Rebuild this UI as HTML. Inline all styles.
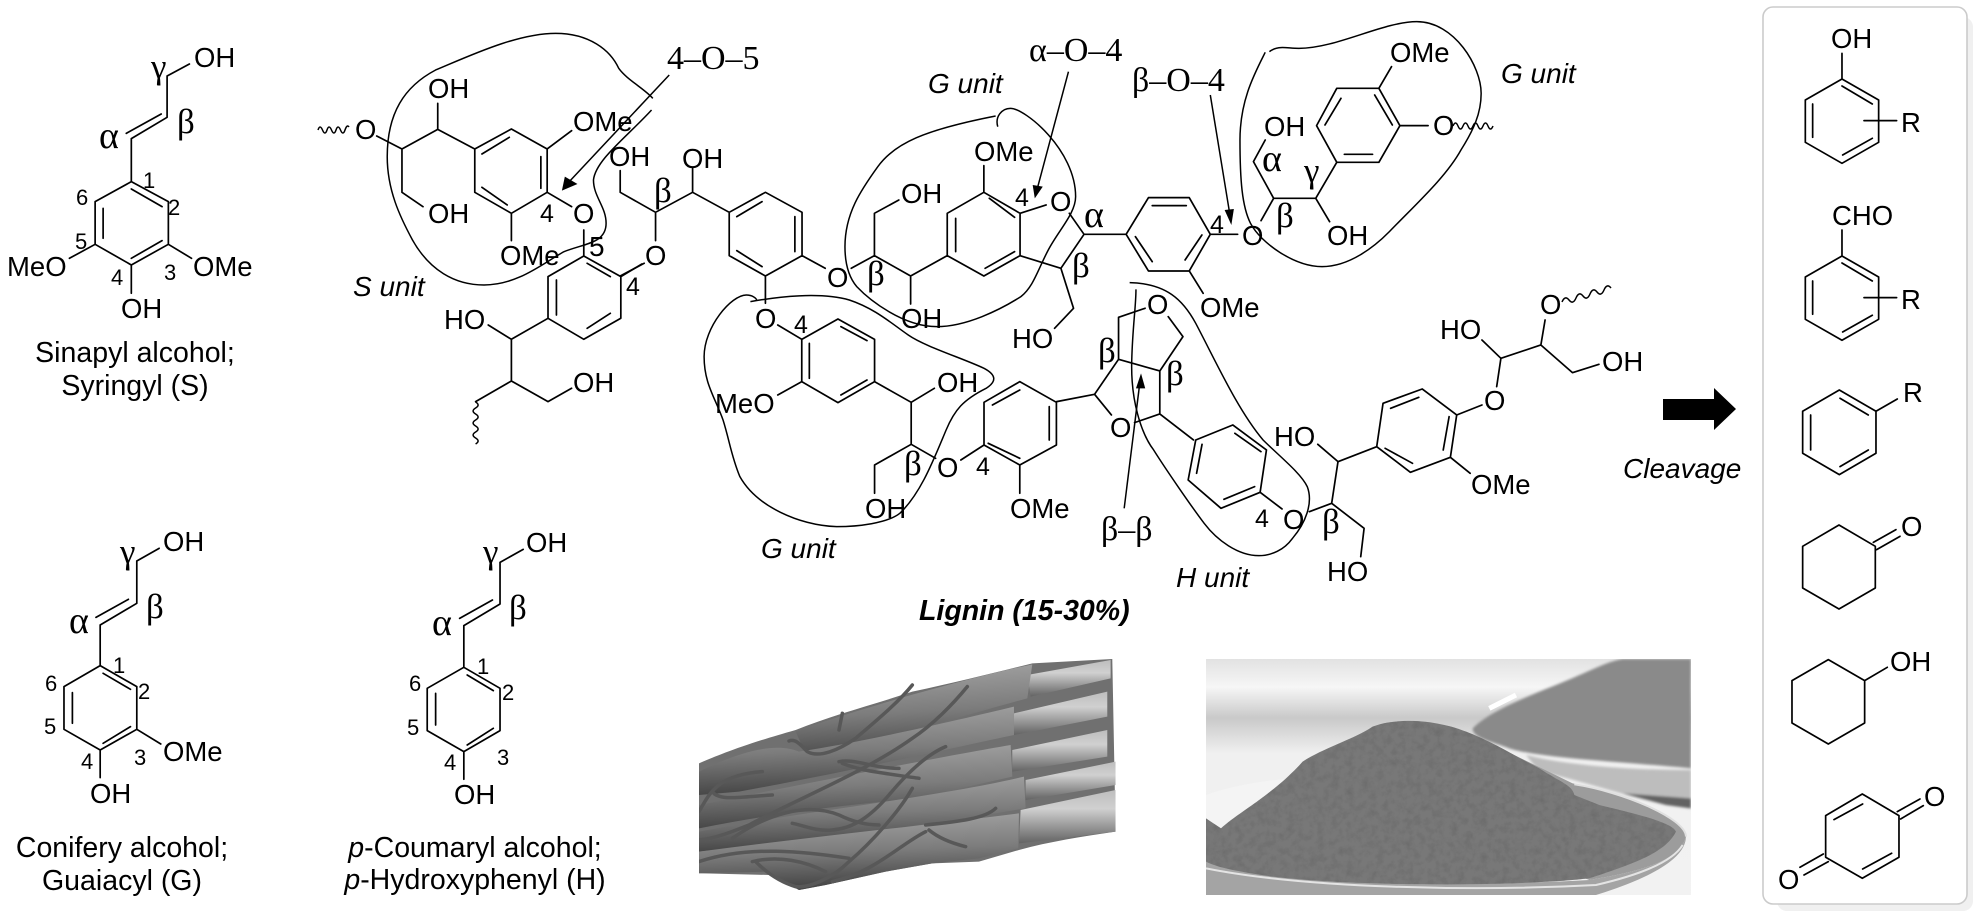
<!DOCTYPE html>
<html lang="en"><head><meta charset="utf-8"><title>Lignin</title>
<style>
html,body{margin:0;padding:0;background:#fff}
svg{display:block}
svg *{vector-effect:non-scaling-stroke}
.b{fill:none;stroke:#000;stroke-width:1.7;stroke-linejoin:round;stroke-linecap:round}
.t{fill:none;stroke:#000;stroke-width:1.5}
text{font-family:"Liberation Sans",sans-serif;fill:#000;font-size:27.5px}
.g{font-family:"Liberation Serif",serif;font-size:35px}
.a{font-size:38px}
.n{font-size:22px}
.m{font-size:25px}
.c{font-size:28.5px;text-anchor:middle}
.i{font-style:italic;font-size:28px}
.l{font-family:"Liberation Serif",serif;font-size:34px}
</style></head><body>
<svg width="1983" height="919" viewBox="0 0 1983 919" xmlns="http://www.w3.org/2000/svg">
<defs>
<linearGradient id="st" x1="0" y1="0" x2="0.15" y2="1"><stop offset="0" stop-color="#a8a8a8"/><stop offset=".55" stop-color="#7c7c7c"/><stop offset="1" stop-color="#454545"/></linearGradient>
<linearGradient id="rt" x1="0" y1="0" x2="0" y2="1"><stop offset="0" stop-color="#bdbdbd"/><stop offset=".35" stop-color="#d0d0d0"/><stop offset="1" stop-color="#636363"/></linearGradient>
<linearGradient id="bg" x1="0" y1="0" x2="0" y2="1"><stop offset="0" stop-color="#e2e2e2"/><stop offset=".12" stop-color="#f6f6f6"/><stop offset=".25" stop-color="#c9c9c9"/><stop offset=".4" stop-color="#f0f0f0"/><stop offset="1" stop-color="#f2f2f2"/></linearGradient>
<filter id="pw" x="0" y="0" width="100%" height="100%"><feTurbulence type="fractalNoise" baseFrequency=".045" numOctaves="3" seed="4"/><feColorMatrix values="0 0 0 0 .15 0 0 0 0 .15 0 0 0 0 .15 1.8 0 0 0 -.7"/><feComposite in2="SourceAlpha" operator="in"/><feMerge><feMergeNode in="SourceGraphic"/><feMergeNode/></feMerge></filter>
<filter id="bl" x="-5%" y="-5%" width="110%" height="110%"><feGaussianBlur stdDeviation="4"/></filter>
<clipPath id="c1"><rect x="0" y="0" width="1250" height="720"/></clipPath>
<clipPath id="c2"><rect x="0" y="12" width="1455" height="708"/></clipPath>
</defs>

<!-- products panel -->
<rect x="1777" y="17" width="196" height="894" rx="10" fill="#f0f0f0"/>
<rect x="1763" y="7" width="204" height="897" rx="10" fill="#fff" stroke="#cbcbcb" stroke-width="1.6"/>

<!-- photo 1: fibre bundle -->
<g transform="matrix(.3333 0 0 .3333 699 655)" clip-path="url(#c1)">
  <path d="M0,325C60,300 130,270 290,225C400,180 520,150 640,110C780,80 900,50 1000,25L1240,12L1250,530C1150,545 1050,560 960,585L840,620L700,625L560,650L380,690L300,705L210,660L0,655Z" fill="#707070"/>
  <path d="M985,60L1235,15V70L995,125Z" fill="url(#rt)"/>
  <path d="M945,175L1225,110V185L945,240Z" fill="url(#rt)"/>
  <path d="M940,285L1225,225V305L940,350Z" fill="url(#rt)"/>
  <path d="M980,375L1250,320V390L980,435Z" fill="url(#rt)"/>
  <path d="M965,465L1250,405V530L960,565Z" fill="url(#rt)"/>
  <path d="M290,230C450,170 800,70 1000,28L985,130C800,180 500,270 330,320Z" fill="url(#st)"/>
  <path d="M0,350C120,290 230,260 300,290C500,260 800,190 945,155V240C800,270 500,340 120,410L0,420Z" fill="url(#st)"/>
  <path d="M0,450C300,390 700,310 935,270L940,365L650,430C450,450 250,470 0,520Z" fill="url(#st)"/>
  <path d="M0,530C300,470 700,430 975,365L980,460C800,490 500,540 0,590Z" fill="url(#st)"/>
  <path d="M0,590C300,550 600,520 960,475L958,580L840,610L700,625L560,650L380,690L300,705L210,650L0,655Z" fill="url(#st)"/>
  <g fill="none" stroke="#585858" stroke-width="3.500" stroke-linecap="round">
    <path d="M640,90C600,140 540,190 470,250C420,285 360,310 325,290C305,270 290,250 270,258"/>
    <path d="M805,95C760,150 700,210 640,250C500,350 300,430 150,510C100,530 50,550 0,555"/>
    <path d="M740,275C680,300 620,360 570,420C510,490 460,520 400,525C350,530 310,510 280,505"/>
    <path d="M640,400C600,470 520,560 450,620C400,670 330,700 290,695C240,680 200,650 170,620"/>
    <path d="M420,320C470,310 520,340 600,340M430,325C480,345 520,350 660,370"/>
    <path d="M0,470C30,420 50,360 190,350M40,410C60,440 130,425 220,420"/>
    <path d="M100,550C200,480 320,440 420,480C460,500 500,510 540,510"/>
    <path d="M690,525C720,550 760,565 800,575M890,460C860,490 780,500 680,510"/>
    <path d="M680,530C600,570 530,650 400,680"/>
    <path d="M430,175L420,225"/>
    <path d="M0,620C150,570 320,590 450,610M160,620C240,600 320,620 380,650"/>
  </g>
</g>

<!-- photo 2: powder -->
<g transform="matrix(.3333 0 0 .3333 1206 655)" clip-path="url(#c2)">
  <rect x="0" y="12" width="1455" height="708" fill="url(#bg)"/>
  <path d="M850,160L930,120" stroke="#fff" stroke-width="5" fill="none"/>
  <g filter="url(#bl)">
    <path d="M800,220C850,170 950,130 1050,90C1150,50 1200,20 1250,12H1455V340C1250,320 1000,310 910,280C860,260 800,250 800,220Z" fill="#8a8a8a"/>
    <path d="M960,300C1100,335 1300,345 1455,345V460L1380,450C1250,420 1100,370 1000,350Z" fill="#bdbdbd"/>
    <path d="M1250,415L1455,430V460L1380,450Z" fill="#626262"/>
  </g>
  <path d="M0,420C100,385 200,375 260,370L40,520L0,490Z" fill="#f4f4f4"/>
  <path d="M780,230L1100,385C1250,410 1440,490 1440,545C1420,620 1300,650 1150,675L700,500Z" fill="#9c9c9c"/>
  <path d="M1105,388C1250,410 1440,490 1440,545" fill="none" stroke="#e0e0e0" stroke-width="2"/>
  <path d="M0,620C200,680 700,700 1150,675C1300,650 1420,620 1440,545C1440,620 1300,680 1170,720H0Z" fill="#a4a4a4"/>
  <path d="M0,640C300,700 800,710 1170,690C1300,660 1400,620 1430,570" fill="none" stroke="#e4e4e4" stroke-width="2"/>
  <path d="M0,490L45,520C100,470 200,420 290,320C350,280 450,250 500,215C560,190 680,190 780,230C860,260 920,300 1000,340C1060,380 1100,390 1105,420L1180,450C1260,470 1400,500 1410,530C1380,590 1300,620 1150,670C1000,690 500,700 200,665C100,650 40,640 0,620Z" fill="#787878" filter="url(#pw)"/>
</g>

<!-- big arrow -->
<polygon points="1663,399 1714,399 1714,388 1736,409 1714,430 1714,420 1663,420" fill="#000"/>

<!-- ZOOM 1 -->
<g transform="matrix(.4209 0 0 .3333 0 0)">
<path class="b" d="M397,228L450,192M397,228V352L312,416M383,342L300,400M312,416V545M312,545L400,605V733L312,795L226,733V605Z M312,567L385,620M385,722L312,775M245,625V715M400,733L455,775M226,733L165,775M312,795V880"/>
<path class="b" d="M895,408L955,447L1040,388V310M955,447V577L1005,620M1040,388L1128,447L1215,387L1300,447V577L1215,640L1128,577V447M1145,462L1210,412M1285,470V565M1145,562L1205,615M1300,447L1358,392M1215,640V722M1300,577L1358,620M1387,690V768L1475,830V955L1387,1018L1302,955V830L1387,768M1395,790L1450,830M1450,940L1395,985M1322,840V945M1475,830L1525,792M1302,955L1215,1018L1160,975M1215,1018V1143L1302,1205L1358,1165M1215,1143L1130,1205"/>
<path class="t" d="M1551,295C1530,265 1490,240 1470,205C1450,150 1400,100 1320,100C1230,100 1120,165 1035,210C960,260 920,340 920,470C920,570 950,650 980,720C1020,810 1080,855 1150,855C1230,855 1290,790 1340,755C1390,730 1440,730 1440,670C1440,620 1410,590 1410,540C1415,480 1490,410 1548,330"/>
<path class="t" d="M1590,225L1345,555"/>
<polygon points="1335,572 1342,530 1372,552" fill="#000"/>
</g>
<path class="t" d="M318,130q2,-6 4.500,0t4.500,0t4.500,0t4.500,0t4.500,0t4.500,0t4,-3"/>
<path class="t" d="M475.600,402q5,3 0,6t0,6t0,6t0,6t0,6t0,6t0,6"/>
<path class="t" d="M1453,126q2.500,-6 5,0t5,0t5,0t5,0t5,0t5,0t5,0t5,0"/>
<path class="t" d="M1562,302q3,-7 7,-2t7,-2t7,-2t7,-2t7,-2t7,-2t7,-2"/>

<!-- ZOOM 2 -->
<g transform="matrix(.4209 0 0 .3333 600 0)">
<path class="b" d="M48,512V577L132,637L220,577V505M132,637V722M105,790L48,828M220,577L307,637L393,577L480,637V767L393,828L307,767V637M325,650L385,605M463,650V755M325,752L385,800M480,767L535,805M597,805L652,767M393,828V910M652,767V640L710,600M652,767L738,828V912M738,828L825,767V640L912,577L998,640V767L912,828L825,767M845,655V755M925,595L985,652M915,805L985,755M912,577V497M998,640L1060,615M998,767L1095,805M1115,640L1150,703L1095,805M1150,703H1250M1250,703L1303,593H1400L1450,703L1400,813H1303Z M1095,805L1125,925L1080,985M1312,617H1393M1272,710L1312,785M1430,705L1390,780M1400,813L1433,880M1450,703H1515"/>
<path class="b" d="M1085,1205L1175,1183L1215,1245M1270,1268L1330,1242M1175,1183L1232,1078L1330,1113V1242M1232,1078V952L1295,925M1350,950L1385,1010L1330,1113M1330,1242L1410,1320"/>
<path class="t" d="M945,380C938,350 955,325 975,325C1010,325 1130,450 1130,590C1130,640 1090,690 1065,750C1040,810 1030,860 1000,890C950,930 870,980 800,980C720,980 640,900 610,860C590,830 582,790 582,740C582,640 620,570 660,500C700,430 770,390 940,348"/>
<path class="t" d="M1113,215L1037,575M1450,285L1496,640"/>
<polygon points="1033,595 1028,555 1052,560" fill="#000"/>
<polygon points="1500,675 1484,630 1506,627" fill="#000"/>
</g>

<!-- ZOOM 3 -->
<g transform="matrix(.4209 0 0 .3333 1160 0)">
<path class="b" d="M240,662L270,595L222,485L250,420M270,595H370L403,665M370,595L420,487H520L570,377L520,265H420L372,377L420,487M438,463H505M392,375L430,295M510,285L552,375M570,377H637M520,265L550,200"/>
<path class="t" d="M250,157C225,220 190,300 190,420C190,540 195,620 215,670C240,730 320,800 385,800C450,800 510,740 545,695C610,610 680,530 715,450C745,390 763,340 763,280C763,200 700,65 610,65C530,65 420,145 330,145C300,145 280,135 260,155"/>
</g>

<!-- ZOOM 4 -->
<g transform="matrix(.4209 0 0 .3333 420 280)">
<path class="b" d="M850,135L907,178M907,178L993,117L1080,178V305L993,368L907,305Z M925,190V295M1000,140L1062,182M1000,345L1062,300M907,305L850,345M1080,305L1167,367L1222,325M1167,367V493L1080,555V640M1167,493L1225,535M1285,540L1340,495L1425,555L1512,495V367L1425,305L1340,367V495M1350,490L1425,535M1495,380V480M1360,375L1425,330M1425,555V640"/>
<path class="t" d="M785,65C850,50 950,35 1020,60C1080,85 1120,130 1160,165C1200,200 1290,235 1340,265C1370,285 1370,305 1345,325C1290,360 1270,390 1250,450C1220,540 1190,640 1140,700C1110,730 1040,740 990,740C900,735 800,680 760,590C740,530 735,480 720,420C700,350 675,310 675,230C675,140 740,45 775,45C790,45 800,55 800,62"/>
</g>

<!-- ZOOM 5 -->
<g transform="matrix(.4209 0 0 .3333 1040 260)">
<path class="b" d="M370,540L458,495L538,570L523,697L430,745L352,660Z M385,553L372,640M463,520L525,575M437,718L510,680M523,697L575,747M640,755L693,730L770,805L762,890M693,730L708,605L660,553M708,605L800,560L815,430L908,387L990,465L975,592L880,637L800,560M833,445L900,412M972,470L958,570M820,565L885,610M990,465L1050,435M1085,380L1095,295L1050,240M1095,295L1190,255L1200,180M1190,255L1265,338L1328,313M975,592L1022,640"/>
<path class="t" d="M213,68C300,70 340,120 370,190C420,310 470,450 530,540C570,590 620,640 635,680C650,730 630,790 600,835C580,870 550,887 520,887C470,887 420,840 390,790C360,740 300,630 270,570C240,520 215,420 218,300C220,200 228,140 228,88"/>
<path class="t" d="M200,745L236,380"/>
<polygon points="240,340 228,385 250,385" fill="#000"/>
</g>

<!-- ZOOM 6 -->
<g transform="matrix(.4209 0 0 .3333 0 500)">
<path class="b" d="M325,183L378,145M325,183V310L238,375M305,298L228,352M238,375V497M238,497L325,560V688L238,750L152,688V560Z M245,520L310,568M310,680L245,730M172,578V670M325,688L382,732M238,750V833"/>
<path class="b" d="M1188,187L1243,148M1188,187V312L1102,377M1170,300L1092,355M1102,377V502M1102,502L1188,565V692L1102,755L1015,692V565Z M1110,525L1172,572M1172,685L1110,735M1035,580V675M1102,755V838"/>
</g>

<!-- panel molecules -->
<g transform="matrix(.3333 0 0 .3333 1660 0)">
<path class="b" d="M546,160V237M546,237L656,300V427L546,490L436,427V300Z M546,258L637,312M458,312V412M548,465L637,415M612,362H710"/>
<path class="b" d="M546,690V768M546,768L656,831V958L546,1021L436,958V831Z M546,789L637,843M458,843V943M548,996L637,946M612,893H710"/>
<path class="b" d="M538,1170L648,1234V1360L538,1424L428,1360V1234Z M540,1195L625,1245M452,1245V1350M540,1400L625,1350M648,1234L712,1197"/>
</g>
<g transform="matrix(.3333 0 0 .3333 1660 459)">
<path class="b" d="M537,198L646,262V387L537,450L428,387V262Z M640,250L708,212M650,272L720,232"/>
<path class="b" d="M505,602L614,665V792L505,855L396,792V665Z M614,665L682,625"/>
<path class="b" d="M607,1005L717,1070V1195L607,1258L497,1195V1070Z M522,1082L608,1035M608,1230L695,1183M712,1058L780,1020M722,1080L790,1040M490,1185L420,1225M505,1208L432,1248"/>
</g>

<!-- Sinapyl text -->
<text x="194" y="67">OH</text>
<text class="g" x="151" y="78">γ</text>
<text class="g a" x="99" y="148">α</text>
<text class="g" x="177" y="133">β</text>
<text class="n" x="143" y="188">1</text><text class="n" x="168" y="215">2</text><text class="n" x="76" y="205">6</text><text class="n" x="75" y="249">5</text><text class="n" x="111" y="285">4</text><text class="n" x="164" y="280">3</text>
<text x="7" y="276">MeO</text><text x="193" y="276">OMe</text><text x="121" y="318">OH</text>
<text class="c" x="135" y="362">Sinapyl alcohol;</text>
<text class="c" x="135" y="395">Syringyl (S)</text>

<!-- Coniferyl text -->
<text x="163" y="551">OH</text>
<text class="g" x="120" y="563">γ</text><text class="g" x="146" y="618">β</text><text class="g a" x="69" y="633">α</text>
<text class="n" x="113" y="673">1</text><text class="n" x="138" y="699">2</text><text class="n" x="45" y="691">6</text><text class="n" x="44" y="734">5</text><text class="n" x="81" y="769">4</text><text class="n" x="134" y="765">3</text>
<text x="163" y="761">OMe</text><text x="90" y="803">OH</text>
<text class="c" x="122" y="857">Conifery alcohol;</text>
<text class="c" x="122" y="890">Guaiacyl (G)</text>

<!-- Coumaryl text -->
<text x="526" y="552">OH</text>
<text class="g" x="483" y="563">γ</text><text class="g" x="509" y="619">β</text><text class="g a" x="432" y="635">α</text>
<text class="n" x="477" y="674">1</text><text class="n" x="502" y="700">2</text><text class="n" x="409" y="691">6</text><text class="n" x="407" y="735">5</text><text class="n" x="444" y="770">4</text><text class="n" x="497" y="765">3</text>
<text x="454" y="804">OH</text>
<text class="c" x="475" y="857"><tspan font-style="italic">p</tspan>-Coumaryl alcohol;</text>
<text class="c" x="475" y="889"><tspan font-style="italic">p</tspan>-Hydroxyphenyl (H)</text>

<!-- Lignin labels -->
<text x="355" y="139">O</text><text x="428" y="98">OH</text><text x="428" y="223">OH</text><text x="573" y="131">OMe</text><text x="500" y="265">OMe</text><text x="573" y="223">O</text>
<text class="m" x="540" y="222">4</text><text class="m" x="589" y="256" style="font-size:28px">5</text><text class="m" x="626" y="295">4</text>
<text x="444" y="329">HO</text><text x="573" y="392">OH</text>
<text x="609" y="166">OH</text><text x="682" y="168">OH</text><text x="645" y="265">O</text>
<text class="g" x="654" y="202">β</text>
<text x="827" y="287">O</text><text x="755" y="328">O</text><text class="g" x="867" y="285">β</text>
<text x="901" y="203">OH</text><text x="901" y="328">OH</text><text x="974" y="161">OMe</text>
<text x="1050" y="211">O</text><text class="m" x="1015" y="206">4</text>
<text class="g a" x="1084" y="227">α</text><text class="g" x="1072" y="277">β</text>
<text x="1012" y="348">HO</text><text x="1200" y="317">OMe</text>
<text class="m" x="1210" y="233">4</text><text x="1242" y="245">O</text>
<text class="i" x="928" y="93">G unit</text>
<text class="l" x="667" y="69">4–O–5</text>
<text class="l" x="1029" y="61">α–O–4</text>
<text class="l" x="1132" y="91">β–O–4</text>
<text class="i" x="353" y="296">S unit</text>
<text x="1264" y="136">OH</text><text x="1327" y="245">OH</text><text x="1433" y="135">O</text><text x="1390" y="62">OMe</text>
<text class="g a" x="1262" y="171">α</text><text class="g" x="1304" y="182">γ</text><text class="g" x="1276" y="227">β</text>
<text class="i" x="1501" y="83">G unit</text>

<text class="m" x="794" y="333">4</text>
<text x="715" y="413">MeO</text><text x="937" y="392">OH</text><text x="865" y="518">OH</text>
<text class="g" x="904" y="475">β</text><text x="937" y="477">O</text><text class="m" x="976" y="475">4</text><text x="1010" y="518">OMe</text>
<text class="i" x="761" y="558">G unit</text>

<text x="1110" y="437">O</text><text x="1147" y="314">O</text>
<text class="g" x="1098" y="362">β</text><text class="g" x="1166" y="385">β</text>
<text x="1283" y="529">O</text><text class="m" x="1255" y="527">4</text>
<text x="1327" y="581">HO</text><text class="g" x="1322" y="533">β</text><text x="1274" y="446">HO</text>
<text x="1484" y="410">O</text><text x="1440" y="339">HO</text><text x="1540" y="314">O</text><text x="1602" y="371">OH</text><text x="1471" y="494">OMe</text>
<text class="l" x="1101" y="540">β–β</text>
<text class="i" x="1176" y="587">H unit</text>
<text x="919" y="620" style="font-weight:bold;font-style:italic;font-size:28.5px">Lignin (15-30%)</text>
<text class="i" x="1623" y="478">Cleavage</text>

<!-- panel text -->
<text x="1831" y="48">OH</text><text x="1901" y="132">R</text>
<text x="1832" y="225">CHO</text><text x="1901" y="309">R</text>
<text x="1903" y="402">R</text>
<text x="1901" y="536">O</text>
<text x="1890" y="671">OH</text>
<text x="1924" y="806">O</text>
<text x="1778" y="889">O</text>
</svg>
</body></html>
